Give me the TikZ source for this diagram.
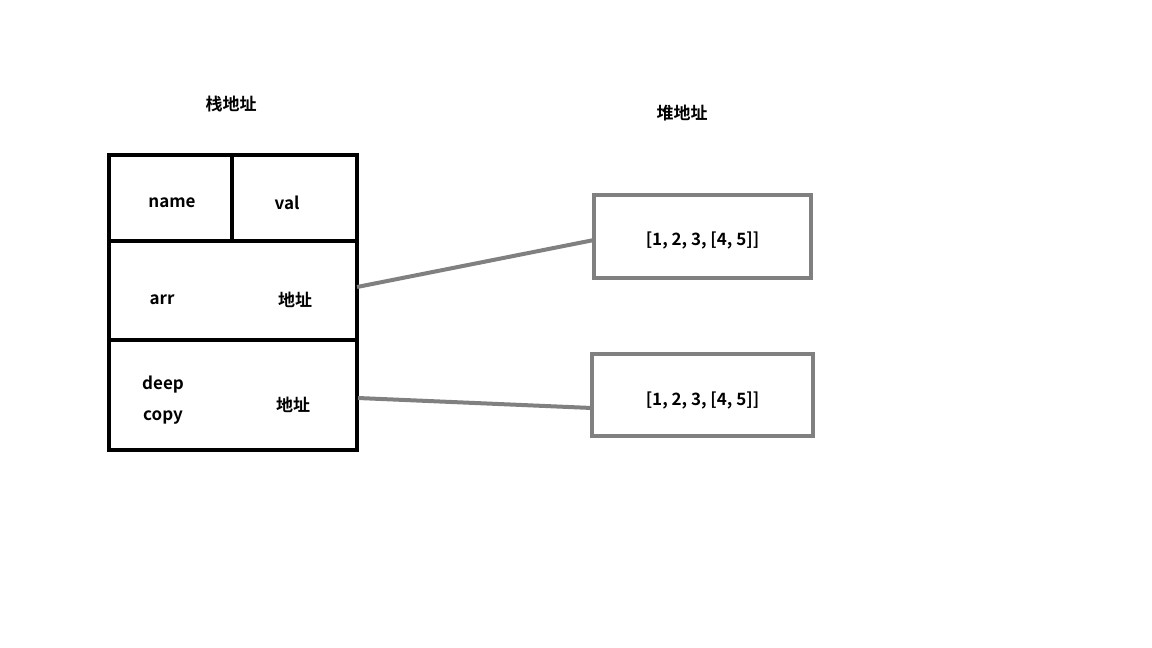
\documentclass[tikz,border=0pt]{standalone}
\usepackage{fontspec}
\setmainfont{Noto Sans CJK SC}[BoldFont={* Bold}]
\begin{document}
\begin{tikzpicture}[x=1pt,y=-1pt,
  lbl/.style={font=\fontsize{17}{19}\selectfont\bfseries, inner sep=0pt},
  txt/.style={lbl, yshift=-2.5pt},
  stk/.style={draw=black, line width=4pt},
  heap/.style={draw=gray, line width=4pt, outer sep=0pt, inner sep=0pt, anchor=north west, text=black},
  conn/.style={draw=gray, line width=4pt}]
\useasboundingbox (0,0) rectangle (1152,648);
% stack box
\draw[stk] (109,155) rectangle (357,450);
\draw[stk] (109,241) -- (357,241);
\draw[stk] (109,340) -- (357,340);
\draw[stk] (232,155) -- (232,241);
\node[txt] (t1) at (231,102) {栈地址};
\node[txt] (t2) at (682,111) {堆地址};
\node[txt] (n1) at (172,200) {name};
\node[txt] (n2) at (287,200) {val};
\node[txt] (n3) at (162,297) {arr};
\node[txt] (n4) at (295,297) {地址};
\node[txt] (n5) at (163,382) {deep};
\node[txt] (n6) at (163,415) {copy};
\node[txt] (n7) at (293,402) {地址};
% heap boxes
\node[heap, lbl, minimum width=217pt, minimum height=83pt] (h1) at (594,195) {\raisebox{-4pt}[\height][\depth]{[1, 2, 3, [4, 5]]}};
\node[heap, lbl, minimum width=221pt, minimum height=82pt] (h2) at (592,354) {\raisebox{-5pt}[\height][\depth]{[1, 2, 3, [4, 5]]}};
\coordinate (a1) at (357,287);
\coordinate (a2) at (358,398);
\draw[conn] (a1) -- ([yshift=-3.5pt]h1.west);
\draw[conn] (a2) -- ([yshift=-13pt]h2.west);
\end{tikzpicture}
\end{document}
